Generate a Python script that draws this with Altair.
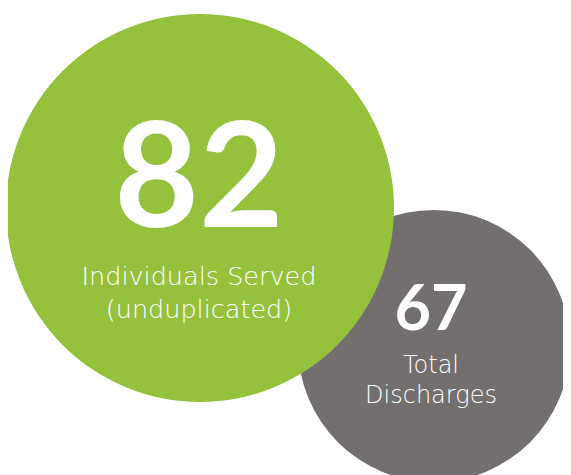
import altair as alt
import pandas as pd

# Values
values = ["82", "67"]
captions_line1 = ["Individuals Served", "Total"]
captions_line2 = ["(unduplicated)", "Discharges"]
colors = ["#96C13D", "#736F6E"]

# Layout (page pixel positions)
W, H = 555, 467
cx = [200, 434]
cy = [208, 346]
radius = [194, 136]

circles = pd.DataFrame({
    "name": ["served", "discharges"],
    "x": cx, "y": cy,
    "size": [(2 * r) ** 2 for r in radius],
    "color": colors,
    "order": [2, 1],
})

xs = alt.Scale(domain=[8, 8 + W], nice=False, zero=False)
ys = alt.Scale(domain=[8 + H, 8], nice=False, zero=False)

base_enc = dict(
    x=alt.X("x:Q", scale=xs, axis=None),
    y=alt.Y("y:Q", scale=ys, axis=None),
)

circ = alt.Chart(circles).mark_circle(opacity=1, clip=True).encode(
    **base_enc,
    size=alt.Size("size:Q", scale=None, legend=None),
    color=alt.Color("color:N", scale=None, legend=None),
    order=alt.Order("order:Q"),
)

big = pd.DataFrame({"x": [199, 431], "y": [227, 330], "t": values, "fs": [146, 63]})
big_text = alt.Chart(big).mark_text(
    font="Lato", fontWeight="bold", color="white", baseline="alphabetic", align="center"
).encode(**base_enc, text="t:N", size=alt.Size("fs:Q", scale=None, legend=None))

small = pd.DataFrame({
    "x": [199, 199, 431, 431],
    "y": [285, 318, 373, 403],
    "t": [captions_line1[0], captions_line2[0], captions_line1[1], captions_line2[1]],
    "fs": [25.5, 25.5, 24, 24],
})
small_text = alt.Chart(small).mark_text(
    font="DejaVu Sans", fontWeight=200, color="white", baseline="alphabetic", align="center"
).encode(**base_enc, text="t:N", size=alt.Size("fs:Q", scale=None, legend=None))

chart = alt.layer(circ, big_text, small_text).properties(
    width=W, height=H,
    autosize=alt.AutoSizeParams(type="none"),
    padding=0,
).configure_view(stroke=None)

chart.save("out.html", embed_options={"renderer": "svg", "actions": False})
